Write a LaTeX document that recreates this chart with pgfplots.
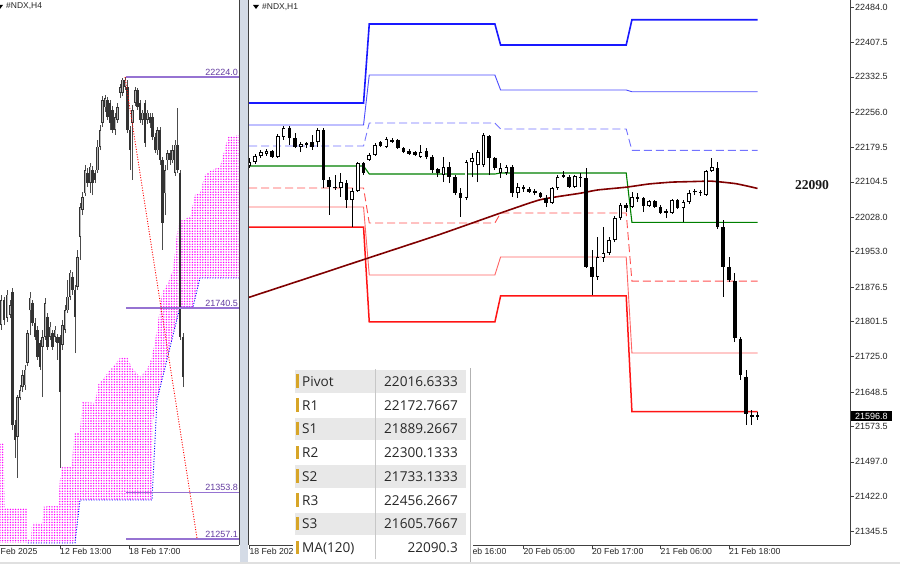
\documentclass[border=0pt]{standalone}
\usepackage{pgfplots}
\pgfplotsset{compat=1.18}
\usepackage{pgfplotstable}
\usepackage{fontspec}
\setmainfont{Liberation Sans}
\newfontfamily\tabfont{Open Sans}
\newfontfamily\serifb{Liberation Serif}
\usetikzlibrary{patterns.meta}

\definecolor{rthree}{RGB}{25,25,255}
\definecolor{rtwo}{RGB}{75,75,255}
\definecolor{rone}{RGB}{115,115,255}
\definecolor{pivgreen}{RGB}{0,128,0}
\definecolor{sone}{RGB}{255,80,80}
\definecolor{stwo}{RGB}{255,100,100}
\definecolor{sthree}{RGB}{255,20,20}
\definecolor{maroonma}{RGB}{128,0,0}
\definecolor{lvlpurple}{RGB}{150,115,210}
\definecolor{lbltext}{RGB}{100,60,160}
\definecolor{sepbar}{RGB}{212,219,230}
\definecolor{rowgray}{RGB}{232,232,232}
\definecolor{icongold}{RGB}{215,165,40}
\definecolor{txt}{RGB}{40,40,40}

% H1 candles (bar index, open, high, low, close)
\pgfplotstableread{
x o h l c
-1 22139 22157 22135 22148
0 22148 22165 22144 22161
1 22161 22174 22157 22170
2 22165 22176 22161 22172
3 22172 22174 22157 22159
4 22159 22209 22157 22204
5 22202 22226 22196 22222
6 22222 22226 22185 22200
7 22200 22211 22178 22180
8 22180 22191 22169 22187
9 22188 22191 22178 22185
10 22191 22206 22174 22180
11 22191 22222 22180 22217
12 22217 22222 22091 22109
13 22109 22115 22033 22093
14 22094 22119 22087 22091
15 22091 22124 22072 22104
16 22102 22109 22048 22065
17 22065 22091 22007 22085
18 22085 22148 22083 22146
19 22146 22148 22119 22124
20 22152 22167 22150 22163
21 22163 22189 22161 22184
22 22191 22193 22180 22182
23 22180 22202 22178 22197
24 22192 22200 22189 22195
25 22195 22198 22176 22178
26 22178 22180 22167 22169
27 22171 22176 22163 22165
28 22169 22172 22161 22163
29 22159 22185 22157 22169
30 22171 22178 22154 22159
31 22159 22163 22124 22130
32 22132 22135 22115 22124
33 22119 22159 22104 22137
34 22137 22148 22102 22115
35 22115 22119 22076 22080
36 22080 22091 22029 22070
37 22070 22152 22065 22148
38 22148 22167 22115 22157
39 22141 22174 22104 22169
40 22141 22211 22137 22206
41 22204 22206 22119 22157
42 22157 22159 22130 22135
43 22124 22146 22113 22135
44 22124 22141 22119 22137
45 22137 22141 22072 22080
46 22080 22102 22070 22094
47 22093 22098 22083 22090
48 22089 22094 22081 22083
49 22085 22089 22076 22081
50 22081 22083 22070 22072
51 22070 22076 22050 22059
52 22059 22094 22057 22091
53 22091 22119 22087 22115
54 22119 22128 22113 22116
55 22115 22119 22091 22094
56 22094 22119 22091 22117
57 22116 22124 22093 22113
58 22113 22135 21918 21920
59 21920 21957 21859 21898
60 21898 21985 21892 21942
61 21940 22007 21931 21950
62 21950 21985 21946 21979
63 21979 22031 21974 22026
64 22026 22059 22022 22054
65 22054 22059 22039 22048
66 22050 22083 22048 22072
67 22072 22081 22061 22067
68 22070 22072 22039 22052
69 22052 22065 22050 22063
70 22063 22065 22048 22050
71 22050 22054 22035 22037
72 22041 22046 22026 22038
73 22037 22068 22035 22065
74 22065 22068 22046 22048
75 22048 22065 22018 22061
76 22061 22087 22057 22081
77 22082 22089 22076 22085
78 22083 22087 22074 22080
79 22076 22130 22074 22128
80 22128 22157 22126 22137
81 22135 22148 22002 22007
82 22007 22022 21855 21920
83 21920 21942 21888 21892
84 21890 21907 21757 21766
85 21764 21768 21675 21686
86 21682 21697 21578 21601
87 21599 21610 21578 21595
88 21595 21605 21588 21598
}\Rdata

% H4 candles (position, open, high, low, close)
\pgfplotstableread{
x o h l c
1 21705 21768 21695 21757
4 21757 21764 21705 21715
7 21720 21778 21711 21768
10 21726 21757 21720 21747
12.5 21774 21782 21485 21496
15 21496 21506 21427 21464
17.5 21471 21559 21385 21554
20 21552 21579 21548 21569
22.5 21575 21611 21565 21600
25 21579 21621 21569 21611
27.5 21626 21695 21619 21688
30 21736 21774 21684 21762
32.5 21751 21757 21703 21709
35 21709 21720 21674 21680
37.5 21695 21703 21632 21638
40 21667 21674 21611 21617
42.5 21659 21695 21554 21680
45 21680 21762 21674 21751
47.5 21722 21730 21653 21659
50 21680 21711 21674 21701
52.5 21688 21695 21653 21659
55 21680 21703 21669 21695
57.5 21680 21686 21632 21667
60 21680 21684 21406 21565
62.5 21663 21715 21653 21705
65 21695 21747 21688 21736
67.5 21736 21799 21730 21764
70 21764 21820 21757 21814
72.5 21806 21816 21768 21778
75 21778 21789 21646 21722
77.5 21785 21862 21778 21847
80 21889 21960 21841 21952
82.5 21946 21983 21935 21973
85 21981 22040 21975 22029
87.5 22023 22034 21994 22002
90 22002 22044 21981 22036
92.5 22029 22038 21977 22002
95 22023 22029 22002 22009
97.5 22029 22092 22023 22078
100 22078 22124 22071 22113
102.5 22128 22184 22119 22176
105 22161 22186 22151 22180
107.5 22176 22182 22134 22140
110 22170 22176 22113 22128
112.5 22155 22163 22107 22113
115 22113 22149 22103 22140
117.5 22134 22170 22128 22161
120 22191 22209 22180 22203
122.5 22191 22222 22184 22218
125 22203 22224 22197 22218
127.5 22203 22218 22107 22113
130 22113 22122 22029 22071
132.5 22128 22165 22009 22155
135 22170 22203 22163 22197
137.5 22197 22201 22155 22161
140 22170 22176 22128 22134
142.5 22134 22155 22124 22149
145 22170 22176 22078 22086
147.5 22134 22155 22126 22149
150 22140 22149 22117 22128
152.5 22140 22149 22092 22099
155 22099 22107 22065 22071
157.5 22071 22119 22061 22113
160 22113 22119 22040 22050
162.5 22050 22057 21862 21919
165 21981 22040 21935 22029
167.5 22050 22071 22029 22065
170 22065 22071 22040 22050
172.5 22050 22082 22044 22071
175 22023 22092 22017 22082
177.5 22082 22159 22023 22029
180 22023 22029 21674 21680
183 21680 21688 21575 21596
}\Ldata

\pgfplotsset{
  wick/.style={quiver={u=0, v=\thisrow{h}-\thisrow{l}}},
  body/.style={quiver={u=0, v=\thisrow{c}-\thisrow{o}}},
}

\begin{document}
\begin{tikzpicture}
\useasboundingbox (0,0) rectangle (900pt,564pt);
\fill[white] (0,0) rectangle (900pt,564pt);
\fill[sepbar] (239.6pt,0) rectangle (248pt,564pt);
\fill[black!12] (0,0) rectangle (900pt,2pt);

% ---------------- left panel (H4) ----------------
\begin{axis}[
  at={(0pt,19pt)}, anchor=south west,
  scale only axis, width=239pt, height=545pt,
  xmin=0, xmax=239, ymin=21244.5, ymax=22385.2,
  axis x line*=bottom, axis y line*=right,
  axis line style={-, draw=black!75, line width=0.8pt},
  ytick=\empty,
  xtick={60,129}, xticklabels={12 Feb 13:00, 18 Feb 17:00},
  tick align=outside, major tick length=4pt,
  tick style={black!75, line width=0.6pt},
  xticklabel style={anchor=north west, xshift=-1pt, yshift=1.5pt, inner sep=1pt,
    font=\fontsize{8.7}{10}\selectfont, text=black!85},
]
% Ichimoku cloud
\addplot[draw=none, pattern={Dots[distance=2.6pt, radius=0.78pt]}, pattern color=magenta]
 coordinates {(0,21458)(4,21458)(5,21322)(27,21322)(28,21255)(31,21255)(32,21290.6)(42,21290.6)
 (43,21324.1)(58,21328.2)(60,21380.6)(62,21407.8)(72,21407.8)(74,21479)(80,21479)(82,21543.8)
 (95,21541.7)(98,21579.4)(100,21583.6)(110,21610.8)(120,21635.9)(127,21638)(132,21615)
 (140,21596.1)(147,21610.8)(152,21638)(157,21694.5)(162,21771.9)(168,21792.9)(173,21820.1)
 (178,21914.3)(182,21924.7)(190,21931)(195,21977.1)(200,21981.2)(205,22018.9)(212,22029.4)
 (220,22035.7)(228,22098.5)(239,22102.6)
 (239,21803.4)(200,21803.4)(193,21742.7)(180,21742.7)(157,21548)(153,21506.1)(152,21338.7)
 (80,21338.7)(75,21248.7)(0,21248.7)} -- cycle;
\addplot[blue, line width=0.9pt, dash pattern=on 1pt off 1.6pt]
 coordinates {(28,21248.7)(75,21248.7)(80,21338.7)(152,21338.7)(157,21548)(180,21742.7)
 (193,21742.7)(200,21803.4)(239,21803.4)};
% candles
\addplot[black!70, line width=0.7pt, wick] table[x=x, y=l] {\Ldata};
\addplot[black!80, line width=2.2pt, body] table[x=x, y=o] {\Ldata};
\addplot[gray!55, line width=0.8pt, body, quiver/every arrow/.style={shorten >=0.6pt, shorten <=0.6pt},
  restrict expr to domain={\thisrow{c}-\thisrow{o}}{6:100000}] table[x=x, y=o] {\Ldata};
% horizontal levels
\addplot[lvlpurple, line width=1.3pt] coordinates {(126,22224.0)(239,22224.0)};
\addplot[lvlpurple, line width=1.3pt] coordinates {(126,21740.5)(239,21740.5)};
\addplot[lvlpurple, line width=1.3pt] coordinates {(126,21353.8)(239,21353.8)};
\addplot[lvlpurple, line width=1.3pt] coordinates {(126,21257.1)(239,21257.1)};
% trend line
\addplot[red, line width=0.9pt, dash pattern=on 1pt off 1.6pt] coordinates {(125,22224)(197,21259)};
\end{axis}

% ---------------- right panel (H1) ----------------
\begin{axis}[
  at={(249pt,19pt)}, anchor=south west,
  scale only axis, width=601pt, height=545pt,
  xmin=-1.06, xmax=104.19, ymin=21316.6, ymax=22499.2,
  axis x line*=bottom, axis y line*=right,
  axis line style={-, draw=black!75, line width=0.8pt},
  tick align=outside, major tick length=4pt,
  tick style={black!75, line width=0.6pt},
  xtick={-1,35,47,59,71,83},
  xticklabels={18 Feb 2025, 19 Feb 16:00, 20 Feb 05:00, 20 Feb 17:00, 21 Feb 06:00, 21 Feb 18:00},
  xticklabel style={anchor=north west, xshift=-1pt, yshift=1.5pt, inner sep=1pt,
    font=\fontsize{8.7}{10}\selectfont, text=black!85},
  ytick={22484.0,22407.5,22332.5,22256.0,22179.5,22104.5,22028.0,21953.0,21876.5,21801.5,21725.0,21648.5,21573.5,21497.0,21422.0,21345.5},
  yticklabels={22484.0,22407.5,22332.5,22256.0,22179.5,22104.5,22028.0,21953.0,21876.5,21801.5,21725.0,21648.5,21573.5,21497.0,21422.0,21345.5},
  yticklabel style={anchor=west, inner sep=1pt, font=\fontsize{9}{10}\selectfont, text=black!85},
]
% pivot levels
\addplot[rthree, line width=1.6pt] coordinates {(-1.06,22275.7)(19,22275.7)(20,22447.1)(42,22447.1)(43,22401.6)(65,22401.6)(66,22456.27)(88,22456.27)};
\addplot[rtwo, line width=0.9pt] coordinates {(-1.06,22228.0)(19,22228.0)(20,22336.5)(42,22336.5)(43,22303.9)(65,22303.9)(66,22300.13)(88,22300.13)};
\addplot[rone, line width=0.9pt, dash pattern=on 8pt off 4pt] coordinates {(-1.06,22182.4)(19,22182.4)(20,22232.3)(42,22232.3)(43,22219.3)(65,22219.3)(66,22172.77)(88,22172.77)};
\addplot[pivgreen, line width=1.1pt] coordinates {(-1.06,22139.0)(19,22139.0)(20,22121.6)(42,22121.6)(43,22123.8)(65,22123.8)(66,22016.63)(88,22016.63)};
\addplot[sone, line width=0.9pt, dash pattern=on 8pt off 4pt] coordinates {(-1.06,22091.3)(19,22091.3)(20,22015.3)(42,22015.3)(43,22037.0)(65,22037.0)(66,21889.27)(88,21889.27)};
\addplot[stwo, line width=0.9pt] coordinates {(-1.06,22050.0)(19,22050.0)(20,21902.5)(42,21902.5)(43,21941.6)(65,21941.6)(66,21733.13)(88,21733.13)};
\addplot[sthree, line width=1.5pt] coordinates {(-1.06,22006.6)(19,22006.6)(20,21800.5)(42,21800.5)(43,21856.9)(65,21856.9)(66,21605.77)(88,21605.77)};
% MA(120)
\addplot[maroonma, line width=1.6pt, smooth, tension=0.3] coordinates {(-1.06,21854)(10,21899)(20,21940)(32,21989)(43,22037)(50,22066)(57,22080)(60,22087)(65,22093)(69,22100)(73,22104)(76,22105)(80,22106)(84,22101)(86,22096)(88,22090.3)};
% candles
\addplot[black, line width=0.8pt, wick] table[x=x, y=l] {\Rdata};
\addplot[black, line width=3.6pt, body] table[x=x, y=o] {\Rdata};
\addplot[white, line width=1.8pt, body, quiver/every arrow/.style={shorten >=0.9pt, shorten <=0.9pt},
  restrict expr to domain={\thisrow{c}-\thisrow{o}}{4.5:100000}] table[x=x, y=o] {\Rdata};
\end{axis}

% panel borders and titles
\draw[black!75, line width=0.8pt] (248.6pt,19pt) -- (248.6pt,564pt);
\fill[black] (253pt,559pt) -- (259pt,559pt) -- (256pt,555pt) -- cycle;
\node[anchor=west, inner sep=0, font=\fontsize{8.5}{10}\selectfont, text=black!85] at (262pt,557.3pt) {\#NDX,H1};
\fill[black] (-3pt,559pt) -- (3pt,559pt) -- (0pt,555pt) -- cycle;
\node[anchor=west, inner sep=0, font=\fontsize{8.5}{10}\selectfont, text=black!85] at (6pt,558pt) {\#NDX,H4};
\node[anchor=north west, inner sep=1pt, font=\fontsize{8.7}{10}\selectfont, text=black!85] at (-0.5pt,16.5pt) {Feb 2025};

% level labels (left)
\foreach \v/\py in {22224.0/77, 21740.5/308, 21353.8/492, 21257.1/539}{
  \pgfmathsetmacro\ly{564-\py+1.8}
  \node[anchor=base east, inner sep=0.5pt, font=\fontsize{9}{10}\selectfont, text=lbltext]
    at (238.5pt,\ly pt) {\v};
}

% MA value label
\node[font=\serifb\bfseries\fontsize{13.6}{15}\selectfont, text=black!90] at (812pt,379pt) {22090};

% current price box
\fill[black] (850.5pt,143.3pt) rectangle (892pt,152.6pt);
\node[text=white, inner sep=0, font=\fontsize{9}{10}\selectfont] at (871.3pt,148pt) {21596.8};

% pivot table overlay
\fill[white] (293pt,2pt) rectangle (473pt,197pt);
\foreach \lab/\val [count=\i from 0] in {Pivot/22016.6333, R1/22172.7667, S1/21889.2667, R2/22300.1333, S2/21733.1333, R3/22456.2667, S3/21605.7667, MA(120)/22090.3}{
  \pgfmathsetmacro\yt{194.5-23.75*\i}
  \pgfmathsetmacro\yc{\yt-11.875}
  \pgfmathsetmacro\ytb{\yt-23.15}
  \pgfmathsetmacro\ytt{\yt-0.6}
  \pgfmathsetmacro\ycl{\yc-6.5}
  \pgfmathsetmacro\ych{\yc+7}
  \pgfmathsetmacro\ycb{\yc-5}
  \ifodd\i\else
    \fill[rowgray] (295pt,\ytt pt) rectangle (466pt,\ytb pt);
  \fi
  \fill[icongold] (296pt,\ycl pt) rectangle (298.6pt,\ych pt);
  \node[anchor=base west, inner sep=0, font=\tabfont\fontsize{13.6}{15}\selectfont, text=txt] at (302pt,\ycb pt) {\lab};
  \node[anchor=base east, inner sep=0, font=\tabfont\fontsize{13.6}{15}\selectfont, text=txt] at (458pt,\ycb pt) {\val};
}
\draw[black!22, line width=0.6pt] (375pt,4.5pt) -- (375pt,194.5pt);
\draw[black!30, line width=0.8pt] (470pt,2pt) -- (470pt,196pt);
\end{tikzpicture}
\end{document}
